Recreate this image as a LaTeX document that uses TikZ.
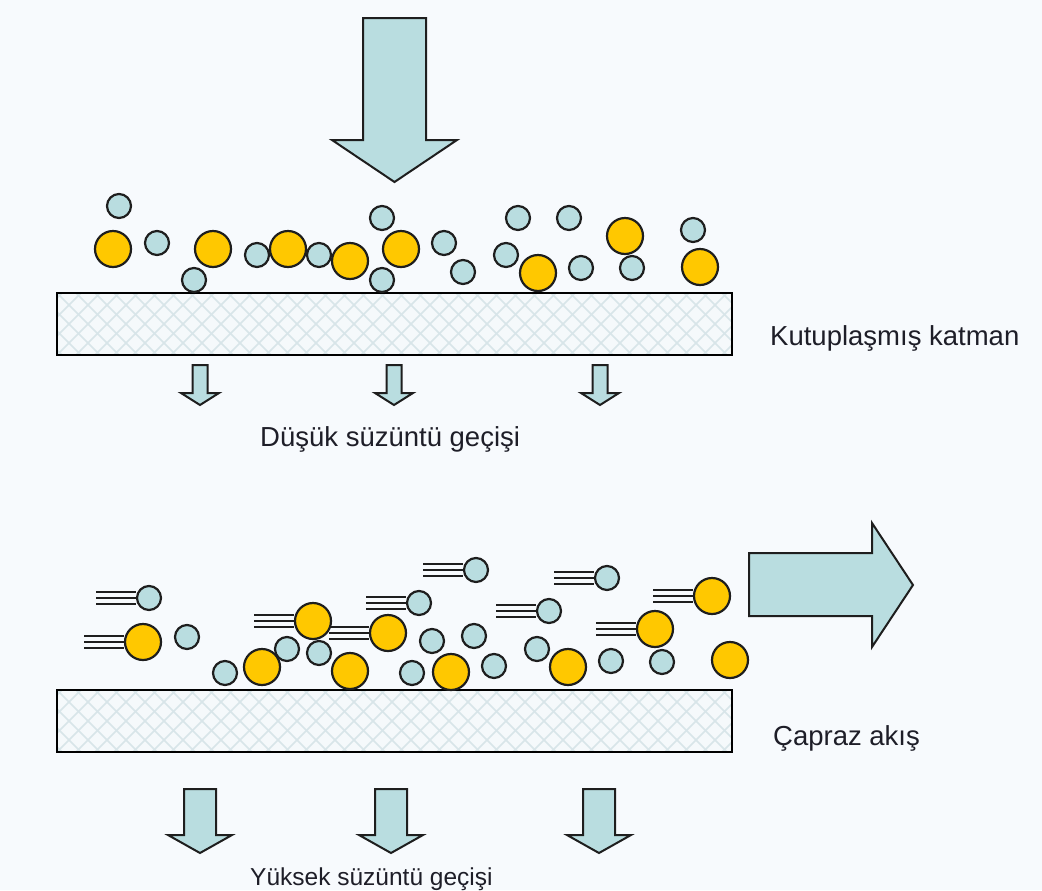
\documentclass[tikz,border=0pt]{standalone}
\usepackage{fontspec}
\setmainfont{Liberation Sans}
\definecolor{bg}{RGB}{247,250,253}
\definecolor{flowblue}{RGB}{185,221,224}
\definecolor{solgold}{RGB}{255,200,0}
\definecolor{edge}{RGB}{30,30,30}
\definecolor{hatch}{RGB}{216,229,233}
\definecolor{mfill}{RGB}{245,249,251}
\definecolor{txt}{RGB}{30,30,40}

% block arrow pointing down: centre x, top y, shaft width, head width, head base y, tip y
\newcommand\filterarrow[6]{%
  \draw[blockarrow] ({#1-#3/2},#2) -- ({#1+#3/2},#2) -- ({#1+#3/2},#5) -- ({#1+#4/2},#5)
    -- (#1,#6) -- ({#1-#4/2},#5) -- ({#1-#3/2},#5) -- cycle;}

% membrane with cross-hatched body
\newcommand\membrane[3]{%
  \node[membranebox, anchor=north west] (#1) at (#2,#3) {};
  \begin{scope}
    \clip (#1.south west) rectangle (#1.north east);
    \foreach \x in {-95,-76,...,720} {
      \draw[hatchline] ({#2+\x},#3) -- ++(62,62);
      \draw[hatchline] ({#2+\x},{#3+62}) -- ++(62,-62);
    }
  \end{scope}
  \draw[membraneedge] (#1.south west) rectangle (#1.north east);}

\begin{document}
\begin{tikzpicture}[x=1pt,y=-1pt,
  small/.style={circle,draw=edge,line width=2.2pt,fill=flowblue,minimum size=24pt,inner sep=0pt},
  large/.style={circle,draw=edge,line width=2.2pt,fill=solgold,minimum size=36pt,inner sep=0pt},
  blockarrow/.style={draw=edge,line width=2pt,fill=flowblue,line join=miter},
  membranebox/.style={fill=mfill,minimum width=675pt,minimum height=62pt,inner sep=0pt,outer sep=0pt},
  membraneedge/.style={draw=black,line width=2.8pt},
  hatchline/.style={draw=hatch,line width=1.5pt},
  label/.style={font=\fontsize{27.5}{33}\selectfont,text=txt,anchor=base west,inner sep=0pt},
  trail/.style={draw=edge,line width=2.6pt}]

\fill[bg] (0,0) rectangle (1042,890);

% ---------- dead-end filtration ----------
\draw[blockarrow] (363,18) -- (426,18) -- (426,140) -- (457,140) -- (394.5,182)
  -- (332,140) -- (363,140) -- cycle;

\membrane{m1}{57}{293}

\node[small] (a1) at (119,206) {};
\node[small] (a2) at (157,243) {};
\node[small] (a3) at (194,280) {};
\node[large] (A1) at (113,249) {};
\node[large] (A2) at (213,249) {};
\node[small] (a4) at (257,255) {};
\node[large] (A3) at (288,249) {};
\node[small] (a5) at (319,255) {};
\node[small] (a6) at (382,218) {};
\node[small] (a7) at (382,280) {};
\node[large] (A4) at (350,261) {};
\node[large] (A5) at (401,249) {};
\node[small] (a8) at (444,243) {};
\node[small] (a9) at (463,272) {};
\node[small] (a10) at (518,218) {};
\node[small] (a11) at (506,255) {};
\node[large] (A6) at (538,273) {};
\node[small] (a12) at (569,218) {};
\node[small] (a13) at (581,268) {};
\node[small] (a14) at (632,268) {};
\node[large] (A7) at (625,236) {};
\node[small] (a15) at (693,230) {};
\node[large] (A8) at (700,267) {};

\filterarrow{200}{365}{15}{38}{393}{405}
\filterarrow{394}{365}{15}{38}{393}{405}
\filterarrow{600}{365}{15}{38}{393}{405}

\node[label] (t1) at (770,345) {Kutuplaşmış katman};
\node[label] (t2) at (260,446) {Düşük süzüntü geçişi};

% ---------- cross-flow filtration ----------
\draw[blockarrow] (749,553) -- (872,553) -- (872,523) -- (913,585) -- (872,647)
  -- (872,616) -- (749,616) -- cycle;

\membrane{m2}{57}{690}

\node[small] (c1) at (187,637) {};
\node[small] (c2) at (225,673) {};
\node[small] (c3) at (287,649) {};
\node[large] (C1) at (262,667) {};
\node[small] (c4) at (319,653) {};
\node[large] (C2) at (350,671) {};
\node[small] (c5) at (412,673) {};
\node[small] (c6) at (432,641) {};
\node[small] (c7) at (474,636) {};
\node[large] (C3) at (451,672) {};
\node[small] (c8) at (494,666) {};
\node[small] (c9) at (537,649) {};
\node[large] (C4) at (568,667) {};
\node[small] (c10) at (611,661) {};
\node[small] (c11) at (662,662) {};
\node[large] (C5) at (730,660) {};

% particles carried along by the tangential flow
\node[small] (f1) at (149,598) {};
\node[large] (F1) at (143,642) {};
\node[large] (F2) at (313,621) {};
\node[large] (F3) at (388,633) {};
\node[small] (f2) at (419,603) {};
\node[small] (f3) at (476,570) {};
\node[small] (f4) at (549,611) {};
\node[small] (f5) at (607,578) {};
\node[large] (F4) at (655,629) {};
\node[large] (F5) at (712,596) {};

\foreach \n in {f1,f2,f3,f4,f5,F1,F2,F3,F4,F5}
  \foreach \dy in {-6,0,6}
    \draw[trail] ([yshift=\dy pt]\n.west) -- ++(-40,0);

\filterarrow{200}{789}{32}{64}{835}{853}
\filterarrow{391}{789}{32}{64}{835}{853}
\filterarrow{599}{789}{32}{64}{835}{853}

\node[label] (t3) at (773,745) {Çapraz akış};
\node[label,font=\fontsize{24.5}{29}\selectfont] (t4) at (250,885) {Yüksek süzüntü geçişi};

\end{tikzpicture}
\end{document}
